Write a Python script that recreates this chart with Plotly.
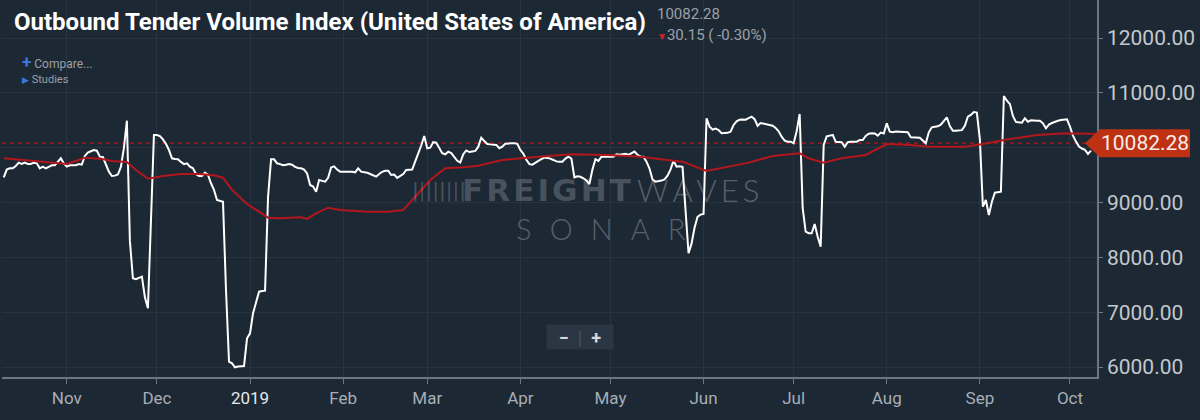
import pandas as pd
from plotly import graph_objects as go

# daily Outbound Tender Volume Index (USA), one list per month
oct_2018 = [9460, 9600, 9624, 9624, 9666, 9726, 9703, 9726, 9703, 9703, 9726,
            9715, 9624, 9654, 9624, 9654, 9679, 9679, 9740, 9806, 9715]  # from Oct 11
nov_2018 = [9654, 9679, 9680, 9679, 9703, 9690, 9849, 9909, 9935, 9958,
            9945, 9836, 9830, 9703, 9562, 9484, 9490, 9510, 9650, 9990,
            10492, 8300, 7618, 7600, 7630, 7648, 7271, 7071, 8650, 10232]
dec_2018 = [10232, 10210, 10150, 10070, 9958, 9806, 9795, 9788, 9740, 9700,
            9715, 9654, 9624, 9520, 9484, 9484, 9544, 9502, 9351, 9229,
            9046, 9030, 9015, 7400, 6097, 6068, 5995, 6010, 6015, 6019, 6524]
jan_2019 = [6615, 6980, 7200, 7374, 7385, 7392, 9100, 9788, 9788, 9715,
            9700, 9679, 9690, 9703, 9690, 9650, 9630, 9624, 9600, 9530,
            9320, 9290, 9198, 9411, 9395, 9380, 9450, 9640, 9660, 9600, 9562]
feb_2019 = [9562, 9565, 9562, 9560, 9550, 9624, 9562, 9555, 9544, 9520,
            9502, 9471, 9520, 9560, 9580, 9580, 9502, 9510, 9450, 9480,
            9520, 9593, 9590, 9600, 9750, 9880, 10040, 10213]
mar_2019 = [9989, 10000, 10100, 10090, 10000, 9900, 9880, 9927, 9900, 9830,
            9760, 9730, 9880, 9950, 9920, 9930, 9940, 10018, 10180, 10120,
            10067, 10060, 10050, 10050, 9990, 10020, 10070, 10080, 10080, 10080, 10070]
apr_2019 = [9958, 9890, 9780, 9700, 9690, 9730, 9760, 9790, 9820, 9810,
            9800, 9776, 9750, 9745, 9745, 9800, 9836, 9800, 9460, 9480,
            9470, 9442, 9400, 9338, 9600, 9790, 9760, 9836, 9840, 9836]
may_2019 = [9836, 9836, 9880, 9870, 9880, 9890, 9870, 9900, 9930, 9870,
            9840, 9836, 9745, 9620, 9420, 9380, 9385, 9400, 9423, 9490,
            9600, 9763, 9654, 9660, 9650, 8924, 8074, 8250, 8540, 8740, 8780]
jun_2019 = [8790, 10536, 10383, 10330, 10350, 10320, 10262, 10262, 10270, 10290,
            10414, 10480, 10510, 10515, 10510, 10540, 10566, 10520, 10400, 10450,
            10440, 10430, 10420, 10400, 10360, 10300, 10200, 10130, 10110, 10110]
jul_2019 = [10080, 10300, 10615, 8900, 8468, 8440, 8440, 8608, 8377, 8194,
            10050, 10205, 10220, 10232, 10109, 10100, 10100, 10018, 10100, 10109,
            10105, 10109, 10140, 10140, 10215, 10255, 10262, 10260, 10220, 10274, 10260]
aug_2019 = [10444, 10292, 10280, 10295, 10290, 10280, 10280, 10280, 10189, 10189,
            10189, 10180, 10130, 10080, 10280, 10371, 10383, 10390, 10420, 10490,
            10554, 10396, 10310, 10310, 10315, 10320, 10400, 10566, 10596, 10651, 10640]
sep_2019 = [10150, 8924, 9046, 8773, 9015, 9179, 9190, 9198, 10943, 10857,
            10797, 10580, 10470, 10456, 10456, 10536, 10474, 10500, 10490, 10490,
            10490, 10444, 10353, 10420, 10450, 10474, 10490, 10505, 10515, 10518]
oct_2019 = [10383, 10220, 10110, 10020, 9985, 9960, 9885, 9945]
start_date = "2018-10-11"

# moving average (red line)
ma_dates = ["2018-10-11", "2018-10-21", "2018-11-01", "2018-11-04", "2018-11-07",
            "2018-11-12", "2018-11-16", "2018-11-21", "2018-11-24", "2018-11-28",
            "2018-12-03", "2018-12-09", "2018-12-15", "2018-12-20", "2018-12-23",
            "2018-12-26", "2018-12-31", "2019-01-04", "2019-01-07", "2019-01-11",
            "2019-01-18", "2019-01-20", "2019-01-23", "2019-01-27", "2019-01-31",
            "2019-02-09", "2019-02-16", "2019-02-21", "2019-02-24", "2019-03-02",
            "2019-03-07", "2019-03-13", "2019-03-18", "2019-03-26", "2019-04-02",
            "2019-04-10", "2019-04-18", "2019-04-30", "2019-05-11", "2019-05-22",
            "2019-05-25", "2019-06-02", "2019-06-08", "2019-06-16", "2019-06-24",
            "2019-07-03", "2019-07-06", "2019-07-11", "2019-07-17", "2019-07-25",
            "2019-08-01", "2019-08-09", "2019-08-15", "2019-08-27", "2019-09-02",
            "2019-09-09", "2019-09-20", "2019-09-30", "2019-10-10"]
ma_values = [9806, 9763, 9703, 9757, 9818, 9800, 9757, 9739, 9593, 9435,
             9484, 9520, 9520, 9497, 9453, 9229, 8973, 8833, 8723, 8712,
             8731, 8700, 8803, 8906, 8864, 8833, 8833, 8864, 9046, 9411,
             9624, 9642, 9672, 9776, 9812, 9840, 9879, 9867, 9836, 9763,
             9745, 9575, 9642, 9727, 9849, 9897, 9806, 9727, 9806, 9867,
             10067, 10049, 10018, 10018, 10067, 10140, 10232, 10262, 10249]

last_value = 10082.28
last_change = -30.15
last_change_pct = -0.30

tick_dates = ["2018-11-01", "2018-12-01", "2019-01-01", "2019-02-01", "2019-03-01",
              "2019-04-01", "2019-05-01", "2019-06-01", "2019-07-01", "2019-08-01",
              "2019-09-01", "2019-10-01"]
tick_labels = ["Nov", "Dec", "<span style='color:#e4e7ea'>2019</span>", "Feb", "Mar",
               "Apr", "May", "Jun", "Jul", "Aug", "Sep", "Oct"]
# price axis; the 10000 label sits under the last-value tag
y_ticks = [6000, 7000, 8000, 9000, 10000, 11000, 12000]
y_labels = ["6000.00", "7000.00", "8000.00", "9000.00", "", "11000.00", "12000.00"]

values = (oct_2018 + nov_2018 + dec_2018 + jan_2019 + feb_2019 + mar_2019 + apr_2019
          + may_2019 + jun_2019 + jul_2019 + aug_2019 + sep_2019 + oct_2019)
dates = pd.date_range(start_date, periods=len(values), freq="D")

bg = "#1d2835"
grid = "#28333f"
axis_col = "#6d7781"
red = "#b3161b"
label_red = "#be3113"
wm = "rgba(230,235,240,0.22)"  # watermark, see-through so lines stay visible
wm_thin = "rgba(230,235,240,0.30)"

fig = go.Figure()
fig.add_trace(go.Scatter(x=dates, y=values, mode="lines",
                         line=dict(color="#ffffff", width=2), hoverinfo="skip"))
fig.add_trace(go.Scatter(x=ma_dates, y=ma_values, mode="lines",
                         line=dict(color=red, width=2), hoverinfo="skip"))

fig.update_layout(
    width=1200,
    height=420,
    paper_bgcolor=bg,
    plot_bgcolor=bg,
    margin=dict(l=2, r=103, t=0, b=43),
    showlegend=False,
    font=dict(family="Roboto", color="#b9bfc5"),
    xaxis=dict(
        range=["2018-10-10 10:00", "2019-10-10"],
        tickvals=tick_dates,
        ticktext=tick_labels,
        showgrid=True,
        gridcolor=grid,
        showline=True,
        linecolor=axis_col,
        linewidth=1.5,
        ticks="outside",
        ticklen=5,
        tickcolor=axis_col,
        tickfont=dict(size=17, color="#a7aeb5"),
        zeroline=False,
        automargin=False,
    ),
    yaxis=dict(
        side="right",
        range=[5818, 12693],
        tickvals=y_ticks,
        ticktext=y_labels,
        showgrid=True,
        gridcolor=grid,
        showline=True,
        linecolor=axis_col,
        linewidth=1.5,
        ticks="outside",
        ticklen=4,
        tickcolor=axis_col,
        tickfont=dict(size=21, color="#c3c8cd"),
        zeroline=False,
        automargin=False,
    ),
)

# current value: dashed line and tag on the price axis
fig.add_shape(type="line", xref="paper", x0=0, x1=1, yref="y", y0=last_value, y1=last_value,
              line=dict(color=red, width=1.2, dash="4px,4px"), layer="below")
fig.add_shape(type="path", xref="paper", xsizemode="pixel", xanchor=1,
              yref="y", ysizemode="pixel", yanchor=last_value,
              path="M-12,0L3,14L93,14L93,-14L3,-14Z",
              fillcolor=label_red, line=dict(width=0), layer="above")
fig.add_annotation(x=1, xref="paper", xshift=48, y=last_value, yref="y",
                   text="%.2f" % last_value, showarrow=False, xanchor="center",
                   yanchor="middle", font=dict(size=21, color="#f6ece8"))

# header
fig.add_annotation(x=0.0095, y=0.9416, xref="paper", yref="paper", xanchor="left",
                   yanchor="middle", showarrow=False,
                   text="<b>Outbound Tender Volume Index (United States of America)</b>",
                   font=dict(family="Roboto", size=24, color="#ffffff"))
fig.add_annotation(x=0.596, y=0.963, xref="paper", yref="paper", xanchor="left",
                   yanchor="middle", showarrow=False, text="%.2f" % last_value,
                   font=dict(size=15, color="#9aa1a8"))
fig.add_annotation(x=0.596, y=0.908, xref="paper", yref="paper", xanchor="left",
                   yanchor="middle", showarrow=False,
                   text="<span style='color:#c62828;font-size:10px'>▼</span>%.2f ( %.2f%%)"
                   % (abs(last_change), last_change_pct),
                   font=dict(size=15, color="#9aa1a8"))
fig.add_annotation(x=0.0164, y=0.835, xref="paper", yref="paper", xanchor="left",
                   yanchor="middle", showarrow=False,
                   text="<span style='color:#3a78e0;font-size:17px'><b>+</b></span> Compare...",
                   font=dict(size=12, color="#9aa1a8"))
fig.add_annotation(x=0.0164, y=0.79, xref="paper", yref="paper", xanchor="left",
                   yanchor="middle", showarrow=False,
                   text="<span style='color:#3a78e0;font-size:9px'>▶</span> Studies",
                   font=dict(size=11, color="#9aa1a8"))

# FreightWaves SONAR watermark
fig.add_annotation(x=0.373, y=0.496, xref="paper", yref="paper", xanchor="left",
                   yanchor="middle", showarrow=False, text="||||||||",
                   font=dict(family="DejaVu Sans", size=20, color=wm))
fig.add_annotation(x=0.576, y=0.496, xref="paper", yref="paper", xanchor="right",
                   yanchor="middle", showarrow=False,
                   text="<b>F\u200aR\u200aE\u200aI\u200aG\u200aH\u200aT</b>",
                   font=dict(family="DejaVu Sans", size=31, color=wm))
fig.add_annotation(x=0.578, y=0.496, xref="paper", yref="paper", xanchor="left",
                   yanchor="middle", showarrow=False,
                   text="W\u2009A\u2009V\u2009E\u2009S",
                   font=dict(family="Lato", size=31, color=wm_thin, weight=300))
fig.add_annotation(x=0.547, y=0.395, xref="paper", yref="paper", xanchor="center",
                   yanchor="middle", showarrow=False,
                   text="S\u2002\u2009O\u2002\u2009N\u2002\u2009A\u2002\u2009R",
                   font=dict(family="Lato", size=29, color=wm_thin, weight=300))

# zoom buttons
fig.add_annotation(x=0.528, y=0.106, xref="paper", yref="paper", xanchor="center",
                   yanchor="middle", showarrow=False, width=62, height=20,
                   bgcolor="#2a3643", borderpad=2,
                   text="<b>−</b>  <span style='color:#46515d'>|</span>  <b>+</b>",
                   font=dict(size=18, color="#d5d9dd"))

# the page's default body margin would shift the chart by 8px
fig.write_html("out.html", config={"displayModeBar": False},
               post_script="document.body.style.margin='0';")
